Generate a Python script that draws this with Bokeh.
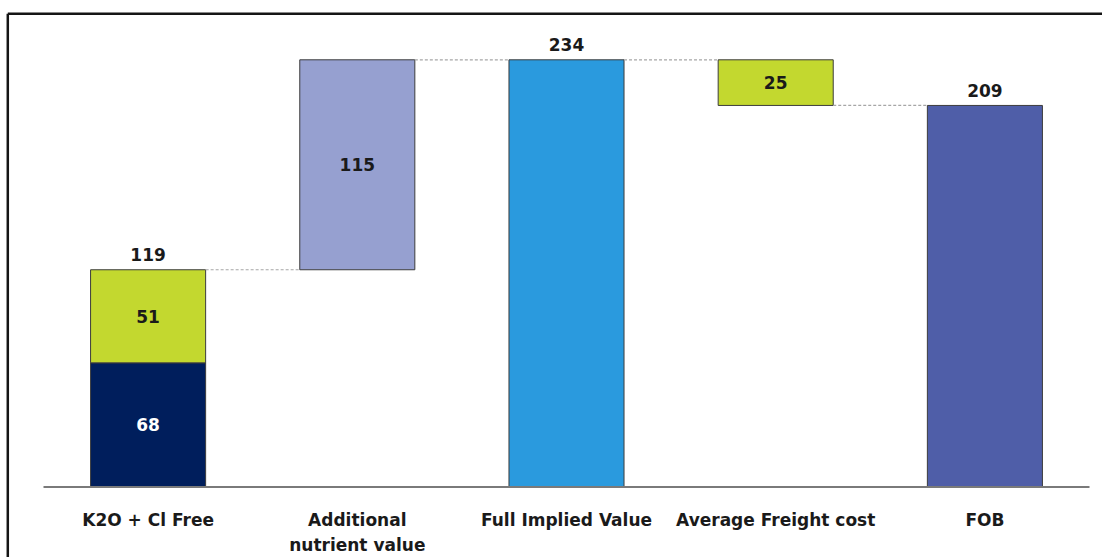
from bokeh.plotting import figure
from bokeh.models import Range1d, ColumnDataSource
from bokeh.core.properties import value
from bokeh.embed import file_html
from bokeh.resources import INLINE

# ---- data ----
categories = ["K2O + Cl Free", "Additional\nnutrient value", "Full Implied Value",
              "Average Freight cost", "FOB"]
k2o_value = 68
cl_free_value = 51
additional_value = 115
freight_cost = 25

subtotal = k2o_value + cl_free_value          # 119
full_value = subtotal + additional_value      # 234
fob_value = full_value - freight_cost         # 209

# ---- layout helpers (pixels of the 1102x557 canvas) ----
W, H = 1102, 557
X0_PX, CAT_PX = 43.0, 209.2
Y0_PX, UNIT_PX = 486.5, 1.8256


def px_x(px):
    return -0.5 + (px - X0_PX) / CAT_PX


def px_y(py):
    return (Y0_PX - py) / UNIT_PX


NAVY = "#001e5c"
LIME = "#c3d82f"
LAVENDER = "#96a0d0"
BLUE = "#2a9ade"
FOB_BLUE = "#4f5ea8"
FONT = value("DejaVu Sans")

p = figure(width=W, height=H, output_backend="svg", toolbar_location=None,
           x_range=Range1d(px_x(0), px_x(W)), y_range=Range1d(px_y(H), px_y(0)),
           x_axis_location=None, y_axis_location=None, min_border=0,
           outline_line_color=None)
p.grid.visible = False
p.background_fill_color = "white"
p.border_fill_color = "white"

# ---- bars ----
bars = ColumnDataSource(dict(
    x=[0, 0, 1, 2, 3, 4],
    bottom=[0, k2o_value, subtotal, 0, fob_value, 0],
    top=[k2o_value, subtotal, full_value, full_value, full_value, fob_value],
    color=[NAVY, LIME, LAVENDER, BLUE, LIME, FOB_BLUE],
))
BW = 0.55
p.vbar(x="x", bottom="bottom", top="top", width=BW, fill_color="color",
       line_color="#3c3c3c", line_width=1, source=bars)

# ---- connectors ----
levels = [subtotal, full_value, full_value, fob_value]
p.segment(x0=[i + BW / 2 for i in range(4)], x1=[i + 1 - BW / 2 for i in range(4)],
          y0=levels, y1=levels, line_color="#a6a6a6", line_width=1.2, line_dash="3 2")

# ---- axis baseline ----
p.segment(x0=[-0.5], x1=[4.5], y0=[0], y1=[0], line_color="#7a7a7a", line_width=2)

# ---- outer frame ----
p.segment(x0=[px_x(7.3)], x1=[px_x(7.3)], y0=[px_y(13.3)], y1=[px_y(H + 20)],
          line_color="#151515", line_width=2.5)
p.segment(x0=[px_x(7.3)], x1=[px_x(W + 20)], y0=[px_y(13.3)], y1=[px_y(13.3)],
          line_color="#151515", line_width=2.5)

# ---- value labels ----
tot = ColumnDataSource(dict(x=[0, 2, 4], y=[subtotal, full_value, fob_value],
                            t=[str(subtotal), str(full_value), str(fob_value)]))
p.text(x="x", y="y", text="t", source=tot, text_align="center", text_baseline="middle",
       y_offset=-15, text_font=FONT, text_font_style="bold", text_font_size="17px",
       text_color="#1a1a1a")

inner = ColumnDataSource(dict(
    x=[0, 0, 1, 3],
    y=[k2o_value / 2, k2o_value + cl_free_value / 2, subtotal + additional_value / 2,
       fob_value + freight_cost / 2],
    t=[str(k2o_value), str(cl_free_value), str(additional_value), str(freight_cost)],
    c=["white", "#1a1a1a", "#1a1a1a", "#1a1a1a"],
))
p.text(x="x", y="y", text="t", text_color="c", source=inner, text_align="center",
       text_baseline="middle", text_font=FONT, text_font_style="bold",
       text_font_size="17px")

# ---- category labels ----
lx, ly, lt, lo = [], [], [], []
for i, cat in enumerate(categories):
    for j, line in enumerate(cat.split("\n")):
        lx.append(i)
        ly.append(px_y(519.5))
        lt.append(line)
        lo.append(25 * j)
p.text(x="x", y="y", text="t", y_offset="o", source=ColumnDataSource(dict(x=lx, y=ly, t=lt, o=lo)),
       text_align="center", text_baseline="middle", text_font=FONT,
       text_font_style="bold", text_font_size="17px", text_color="#1a1a1a")

open("out.html", "w").write(file_html(p, INLINE))
